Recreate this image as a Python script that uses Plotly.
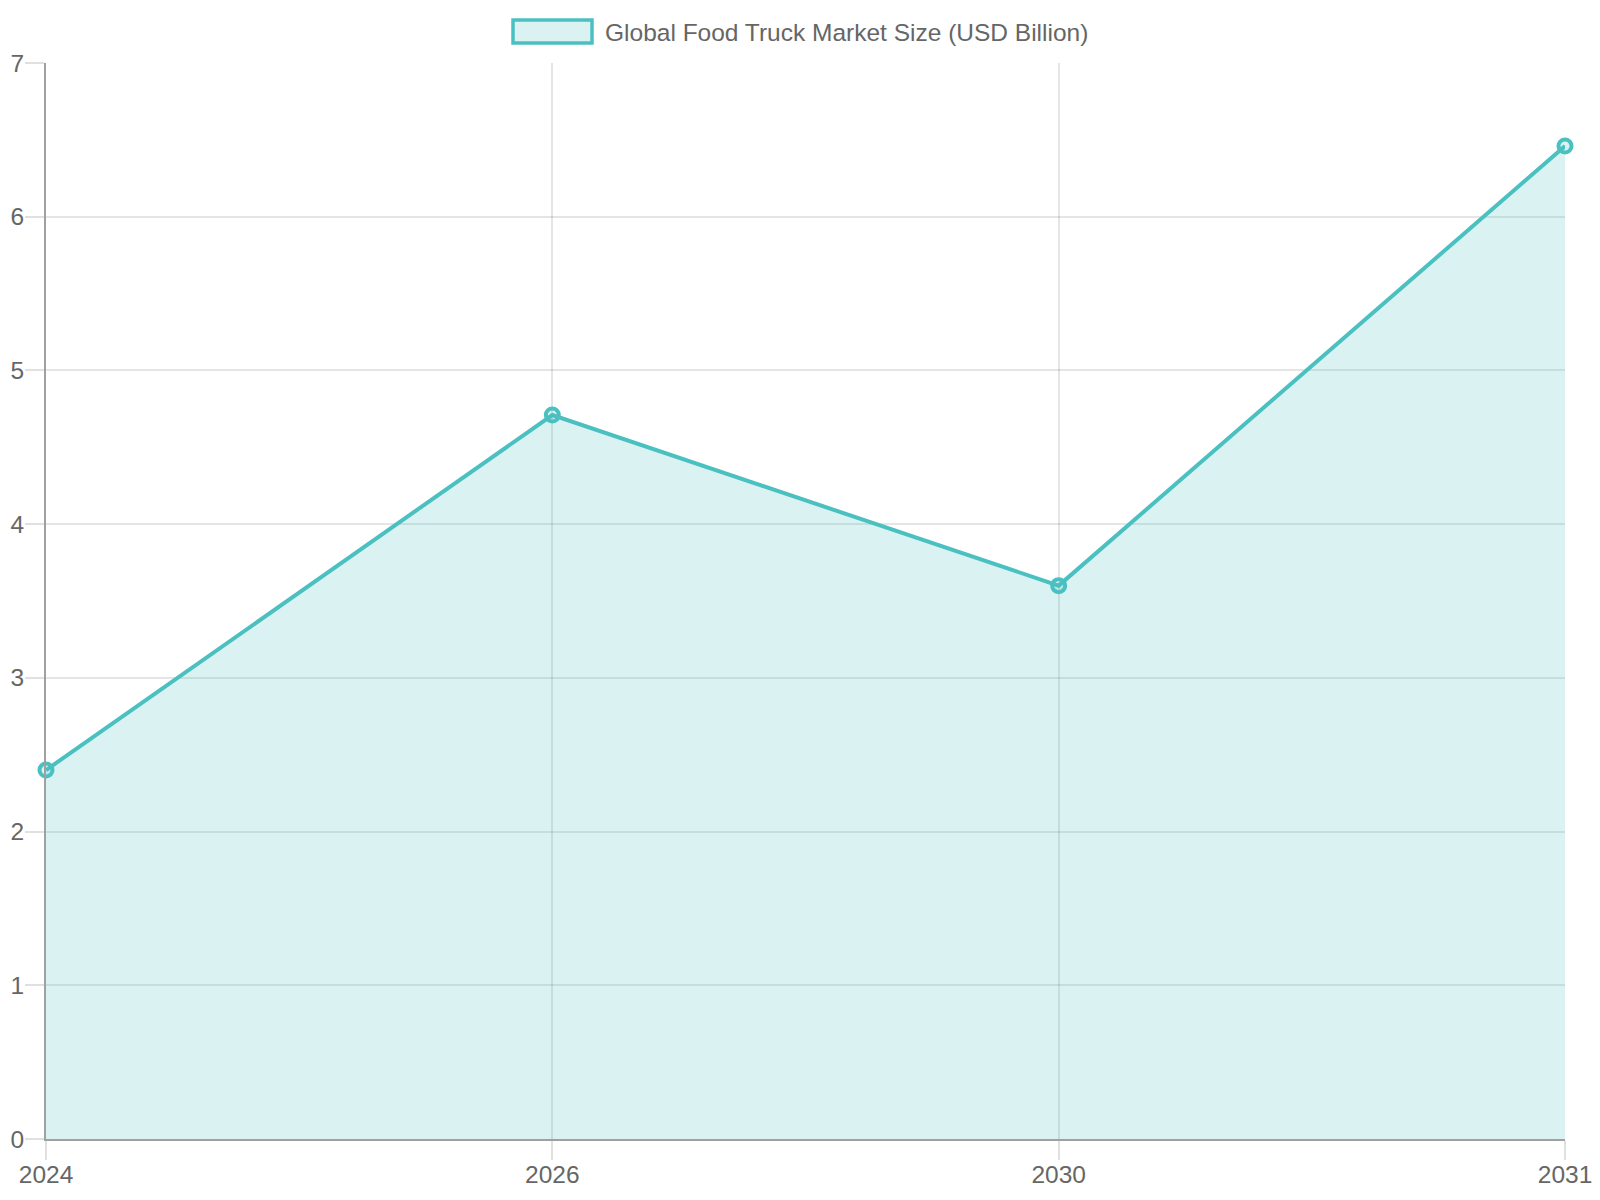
import plotly.graph_objects as go

# chart data
years = ["2024", "2026", "2030", "2031"]
market_size = [2.4, 4.71, 3.6, 6.46]
series_name = "Global Food Truck Market Size (USD Billion)"

teal = "rgb(75, 192, 192)"
teal_fill = "rgba(75, 192, 192, 0.2)"
font = dict(family="Liberation Sans, Arial, sans-serif", size=24.5, color="#666666")

# figure size / plot area in pixels (page has an 8px body margin)
W, H = 1584, 1184
L, R, T, B = 38, 27, 55, 53
pw, ph = W - L - R, H - T - B


def px_x(x):
    return (x - L) / pw


def px_y(y):
    return 1 - (y - T) / ph


fig = go.Figure()
fig.add_trace(go.Scatter(
    x=years,
    y=market_size,
    mode="lines+markers",
    fill="tozeroy",
    fillcolor=teal_fill,
    line=dict(color=teal, width=4),
    marker=dict(symbol="circle", size=13, color=teal_fill,
                line=dict(color=teal, width=4)),
    name=series_name,
    showlegend=False,
    cliponaxis=False,
))

# hand-drawn legend like chart.js
fig.add_shape(type="rect", xref="paper", yref="paper",
              x0=px_x(505), x1=px_x(584), y0=px_y(35), y1=px_y(12),
              line=dict(color=teal, width=3.5), fillcolor=teal_fill)
fig.add_annotation(text=series_name, xref="paper", yref="paper",
                   x=px_x(595), y=px_y(24),
                   xanchor="left", yanchor="middle", showarrow=False,
                   font=font)

axis_style = dict(
    showgrid=True, gridcolor="rgba(0,0,0,0.1)", gridwidth=2,
    showline=True, linecolor="#a0a0a0", linewidth=2,
    ticks="outside", ticklen=19, tickwidth=2, tickcolor="rgba(0,0,0,0.12)",
    tickfont=font,
    zeroline=False,
    automargin=False,
)
fig.update_xaxes(type="category", range=[0, 3], ticklabelstandoff=-6, **axis_style)
fig.update_yaxes(range=[0, 7], dtick=1, ticklabelstandoff=-4, **axis_style)
fig.update_layout(
    width=W, height=H,
    margin=dict(l=L, r=R, t=T, b=B),
    plot_bgcolor="white", paper_bgcolor="white",
    font=font,
)
fig.write_html("out.html")
